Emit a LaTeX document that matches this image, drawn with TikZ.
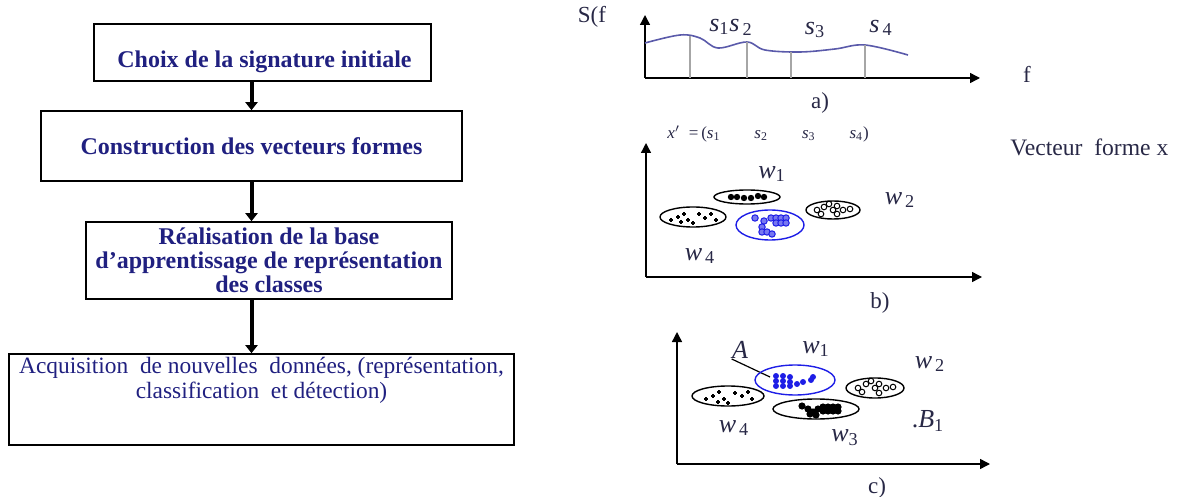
\documentclass[tikz,border=0pt]{standalone}
\usepackage{fontspec}
\setmainfont{Liberation Serif}
\usetikzlibrary{arrows.meta,positioning,calc}

\definecolor{boxtxt}{RGB}{32,32,128}
\definecolor{labtxt}{RGB}{40,40,70}
\definecolor{curvec}{RGB}{90,90,170}
\definecolor{clublue}{RGB}{30,30,230}

\newcommand{\ilab}[2]{\textit{#1}\textsubscript{#2}}

\begin{document}
\begin{tikzpicture}[x=0.5pt, y=-0.5pt,
    box/.style={draw, line width=0.8pt, inner sep=2pt, align=center, text=boxtxt, font=\fontsize{12}{12}\selectfont\bfseries},
    flow/.style={-{Triangle[length=4pt,width=6pt]}, line width=2pt},
    axis/.style={-{Triangle[length=5pt,width=5pt]}, line width=0.7pt},
    lab/.style={text=labtxt, font=\fontsize{13}{14}\selectfont, inner sep=0pt},
    clu/.style={line width=0.7pt},
    stem/.style={gray!70, line width=0.6pt}
]
\useasboundingbox (0,0) rectangle (1177,497);

% --- flowchart (left) ---
\node[box, minimum width=168.5pt, minimum height=28.5pt] (choix) at (262.5,52.5) {};
\node[text=boxtxt, font=\fontsize{12}{12}\selectfont\bfseries, inner sep=0pt] (choixtxt)
    at ($(choix.center)+(2,9)$) {Choix de la signature initiale};
\node[box, minimum width=210.5pt, minimum height=35pt] (constr) at (251.5,146)
    {Construction des vecteurs formes};
\node[box, minimum width=183pt, minimum height=38.5pt] (base) at (269,260.5)
    {R\'ealisation de la base\\d'apprentissage de repr\'esentation\\des classes};
\node[box, minimum width=252.5pt, minimum height=45.5pt] (acq) at (261.5,399.5) {};
\node[below=2pt of acq.north, align=center, text=boxtxt, inner sep=0pt,
      font=\fontsize{11.7}{12.5}\selectfont] (acqtxt)
    {Acquisition~ de nouvelles~ donn\'ees, (repr\'esentation,\\classification~ et d\'etection)};

\draw[flow] (choix.south -| constr.north) -- (constr.north);
\draw[flow] (constr.south) -- (base.north -| constr.south);
\draw[flow] (base.south -| constr.south) -- (acq.north -| constr.south);

% --- a) spectre ---
\draw[axis] (645,78) -- (645,15);
\draw[axis] (645,78) -- (980,78);
\draw[curvec, line width=0.8pt] plot[smooth, tension=0.6] coordinates
    {(645,43) (680,35) (700,38) (718,48) (747,42) (765,50) (800,52) (835,49) (865,45) (908,55)};
\foreach \sx/\sy in {690/36, 747/42, 791/52, 865/45}
    \draw[stem] (\sx,\sy) -- (\sx,78);
\node[lab, font=\fontsize{11.5}{12}\selectfont] (sf) at (592,17) {S(f};
\node[lab] (s12) at (731,27) {\ilab{s}{1}\ilab{s}{\,2}};
\node[lab] (s3) at (815,30) {\ilab{s}{3}};
\node[lab] (s4) at (881,28) {\ilab{s}{\,4}};
\node[lab, font=\fontsize{11.5}{12}\selectfont] (fa) at (1027,74) {f};
\node[lab, font=\fontsize{11.5}{12}\selectfont] (ta) at (820,103) {a)};

% --- b) vecteurs formes ---
\draw[axis] (646,277) -- (646,143);
\draw[axis] (646,277) -- (982,277);
\node[lab, anchor=west, font=\fontsize{8.5}{9}\selectfont] (xv) at (667,134)
    {\textit{x}$'$ ~=\,(\ilab{s}{1}\qquad\ilab{s}{2}\qquad\ilab{s}{3}\qquad\ilab{s}{4})};
\node[lab, anchor=west, font=\fontsize{11.8}{12}\selectfont] (vf) at (1010,147) {Vecteur~ forme x};
\node[lab] (bw1) at (772,174) {\ilab{w}{1}};
\node[lab] (bw2) at (900,200) {\ilab{w}{\,2}};
\node[lab] (bw4) at (700,256) {\ilab{w}{\,4}};
\node[lab, font=\fontsize{11.5}{12}\selectfont] (tb) at (880,303) {b)};

\draw[clu] (747,197) ellipse [x radius=33, y radius=7];
\foreach \dx/\dy in {-16/0, -10/0, -3/1, 4/1, 11/-1, 17/0}
    \fill (747+\dx,197+\dy) circle (1.6pt);
\draw[clu] (693,217) ellipse [x radius=33, y radius=10];
\foreach \dx/\dy in {-22/3, -15/0, -9/-3, -5/3, 0/6, 6/-3, 12/1, 18/-3, 23/3, -12/5}
    \draw[line width=0.6pt] (693+\dx-2,217+\dy) -- (693+\dx+2,217+\dy) (693+\dx,217+\dy-2) -- (693+\dx,217+\dy+2);
\draw[clu, clublue] (770,225) ellipse [x radius=34, y radius=15];
\foreach \dx/\dy in {-15/-7, -6/-4, 1/-7, 6/-7, 11/-7, 16/-7, 6/-2, 11/-2, 16/-2, -8/2, -8/7, -3/7, 2/9}
    \draw[clublue, fill=clublue!60, line width=0.5pt] (770+\dx,225+\dy) circle (1.6pt);
\draw[clu] (833,210) ellipse [x radius=27, y radius=9];
\foreach \dx/\dy in {-16/0, -9/-3, -4/-6, 0/0, 4/-4, 10/0, 17/-1, -12/4, 4/4}
    \draw[line width=0.5pt] (833+\dx,210+\dy) circle (1.4pt);

% --- c) classification ---
\draw[axis] (677,464) -- (677,332);
\draw[axis] (677,464) -- (990,464);
\node[lab, font=\fontsize{13}{14}\selectfont\itshape] (ca) at (740,350) {A};
\coordinate (cin) at (770,377);
\draw[line width=0.6pt] (ca.south west) -- (cin);
\node[lab] (cw1) at (816,349) {\ilab{w}{1}};
\node[lab] (cw2) at (930,364) {\ilab{w}{\,2}};
\node[lab] (cw4) at (734,428) {\ilab{w}{\,4}};
\node[lab] (cw3) at (845,438) {\ilab{w}{3}};
\node[lab] (cb1) at (928,421) {.\ilab{B}{1}};
\node[lab, font=\fontsize{11.5}{12}\selectfont] (tc) at (877,488) {c)};

\draw[clu, clublue] (795,380) ellipse [x radius=40, y radius=15];
\foreach \dx/\dy in {-19/-4, -19/1, -19/6, -12/-4, -12/1, -12/6, -5/-3, -5/2, -5/6, 2/4, 8/2, 18/-3, 16/0}
    \fill[clublue] (795+\dx,380+\dy) circle (1.5pt);
\draw[clu] (728,396) ellipse [x radius=36, y radius=10];
\foreach \dx/\dy in {-22/3, -15/0, -9/-4, -4/3, 0/7, 7/-3, 14/0, 20/-4, 24/3, -10/6}
    \draw[line width=0.6pt] (728+\dx-2,396+\dy) -- (728+\dx+2,396+\dy) (728+\dx,396+\dy-2) -- (728+\dx,396+\dy+2);
\draw[clu] (875,388) ellipse [x radius=29, y radius=10];
\foreach \dx/\dy in {-17/0, -9/-4, -4/-7, 0/0, 4/-4, 11/0, 18/-1, -13/4, 4/5}
    \draw[line width=0.5pt] (875+\dx,388+\dy) circle (1.4pt);
\draw[clu] (816,409) ellipse [x radius=43, y radius=10];
\foreach \dx/\dy in {-14/-3, -8/0, -3/3, 2/0, 7/-2, 12/-2, 17/-2, 22/-2, 7/2, 12/2, 17/2, 22/2, -6/5, 0/6}
    \fill (816+\dx,409+\dy) circle (1.8pt);
\end{tikzpicture}
\end{document}
